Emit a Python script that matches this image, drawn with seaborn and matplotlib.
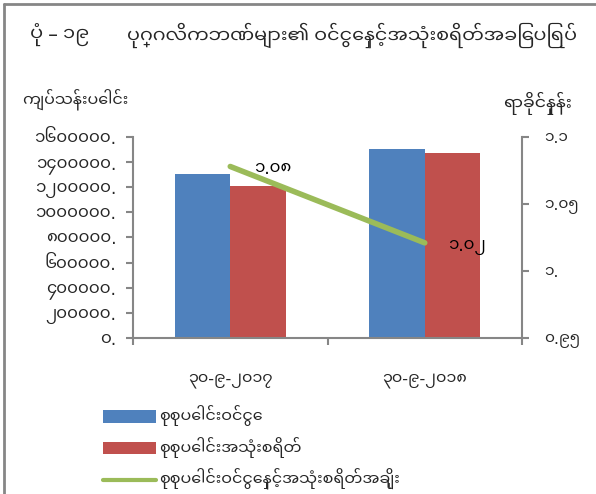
import matplotlib
matplotlib.use('Agg')
import matplotlib.pyplot as plt
import seaborn as sns
import pandas as pd
import numpy as np
from matplotlib import font_manager
from matplotlib.lines import Line2D
from matplotlib.patches import Patch

# ---------------- data ----------------
categories = ['၃၀-၉-၂၀၁၇', '၃၀-၉-၂၀၁၈']
series_names = ['စုစုပေါင်းဝင်ငွေ', 'စုစုပေါင်းအသုံးစရိတ်']
income = [1305000, 1505000]
expense = [1210000, 1473000]
ratio_name = 'စုစုပေါင်းဝင်ငွေနှင့်အသုံးစရိတ်အချိုး'
ratio = [1.078, 1.021]
ratio_labels = ['၁.၀၈', '၁.၀၂']
left_ticks = [0, 200000, 400000, 600000, 800000, 1000000, 1200000, 1400000, 1600000]
left_tick_labels = ['၀.', '၂၀၀၀၀၀.', '၄၀၀၀၀၀.', '၆၀၀၀၀၀.', '၈၀၀၀၀၀.',
                    '၁၀၀၀၀၀၀.', '၁၂၀၀၀၀၀.', '၁၄၀၀၀၀၀.', '၁၆၀၀၀၀၀.']
right_ticks = [0.95, 1.0, 1.05, 1.1]
right_tick_labels = ['၀.၉၅', '၁.', '၁.၀၅', '၁.၁']
title_num = 'ပုံ – ၁၉'
title_text = 'ပုဂ္ဂလိကဘဏ်များ၏ ဝင်ငွေနှင့်အသုံးစရိတ်အခြေပြရပ်'
left_label = 'ကျပ်သန်းပေါင်း'
right_label = 'ရာခိုင်နှုန်း'

BLUE = '#4F81BD'
RED = '#C0504D'
GREEN = '#9BBB59'
GRAY = '#868686'

sns.set_theme(style='white')
installed = {f.name for f in font_manager.fontManager.ttflist}
mm = [n for n in ['Noto Sans Myanmar UI', 'Noto Sans Myanmar', 'Padauk'] if n in installed][:1]
plt.rcParams['font.family'] = mm + ['DejaVu Sans']

fig = plt.figure(figsize=(5.96, 4.94), dpi=100)
ax = fig.add_axes([133 / 596, 1 - 338 / 494, 389 / 596, 201 / 494])

df = pd.DataFrame({
    'date': categories * 2,
    'series': [series_names[0]] * 2 + [series_names[1]] * 2,
    'value': income + expense,
})
sns.barplot(data=df, x='date', y='value', hue='series', order=categories,
            hue_order=series_names, palette=[BLUE, RED], saturation=1,
            width=0.57, ax=ax, legend=False, edgecolor='none')
ax.set_ylim(0, 1600000)
ax.set_xlim(-0.5, 1.5)
ax.set_yticks(left_ticks)
ax.set_yticklabels(left_tick_labels, fontsize=12)
ax.set_xticks(range(len(categories)))
ax.set_xticklabels(categories, fontsize=11.5)
ax.set_xticks([-0.5, 0.5, 1.5], minor=True)
ax.tick_params(axis='x', which='major', length=0, pad=25)
ax.tick_params(axis='x', which='minor', length=5, width=1.5, color=GRAY, direction='out', bottom=True)
ax.tick_params(axis='y', length=5, width=1.5, color=GRAY, direction='out', left=True, pad=7)
ax.set_xlabel('')
ax.set_ylabel('')
for s in ['top', 'right']:
    ax.spines[s].set_visible(False)
for s in ['left', 'bottom']:
    ax.spines[s].set_color(GRAY)
    ax.spines[s].set_linewidth(1.5)

ax2 = ax.twinx()
xpos = np.arange(len(categories))
sns.lineplot(x=xpos, y=ratio, ax=ax2, color=GREEN, linewidth=4, legend=False)
ax2.set_ylim(0.95, 1.1)
ax2.set_xlim(-0.5, 1.5)
ax2.set_yticks(right_ticks)
ax2.set_yticklabels(right_tick_labels, fontsize=11)
ax2.tick_params(axis='y', length=5, width=1.5, color=GRAY, direction='out', right=True, pad=11)
ax2.set_ylabel('')
for s in ['top', 'left', 'bottom']:
    ax2.spines[s].set_visible(False)
ax2.spines['right'].set_color(GRAY)
ax2.spines['right'].set_linewidth(1.5)

for x, y, t in zip(xpos, ratio, ratio_labels):
    ax2.annotate(t, (x, y), xytext=(17, -2), textcoords='offset points',
                 fontsize=12, ha='left', va='center', color='black')

fig.text(30 / 596, 1 - 35 / 494, title_num, fontsize=14, ha='left', va='center')
fig.text(127 / 596, 1 - 35 / 494, title_text, fontsize=13.8, ha='left', va='center')
fig.text(22 / 596, 1 - 100 / 494, left_label, fontsize=11.5, ha='left', va='center')
fig.text(503 / 596, 1 - 103 / 494, right_label, fontsize=12.5, ha='left', va='center')

handles = [Patch(facecolor=BLUE, edgecolor='none'),
           Patch(facecolor=RED, edgecolor='none'),
           Line2D([0], [0], color=GREEN, linewidth=3)]
fig.legend(handles, series_names + [ratio_name], loc='upper left',
           bbox_to_anchor=(103 / 596, 1 - 405 / 494), frameon=False,
           fontsize=11.5, handlelength=3.3, handleheight=0.8,
           handletextpad=0.2, labelspacing=0.68, borderpad=0, borderaxespad=0)

fig.add_artist(Line2D([4 / 596, 4 / 596], [0, 1 - 4 / 494], color=GRAY, linewidth=2,
                      transform=fig.transFigure))
fig.add_artist(Line2D([4 / 596, 1], [1 - 4 / 494, 1 - 4 / 494], color=GRAY, linewidth=2,
                      transform=fig.transFigure))

fig.savefig('out.png', dpi=100)
